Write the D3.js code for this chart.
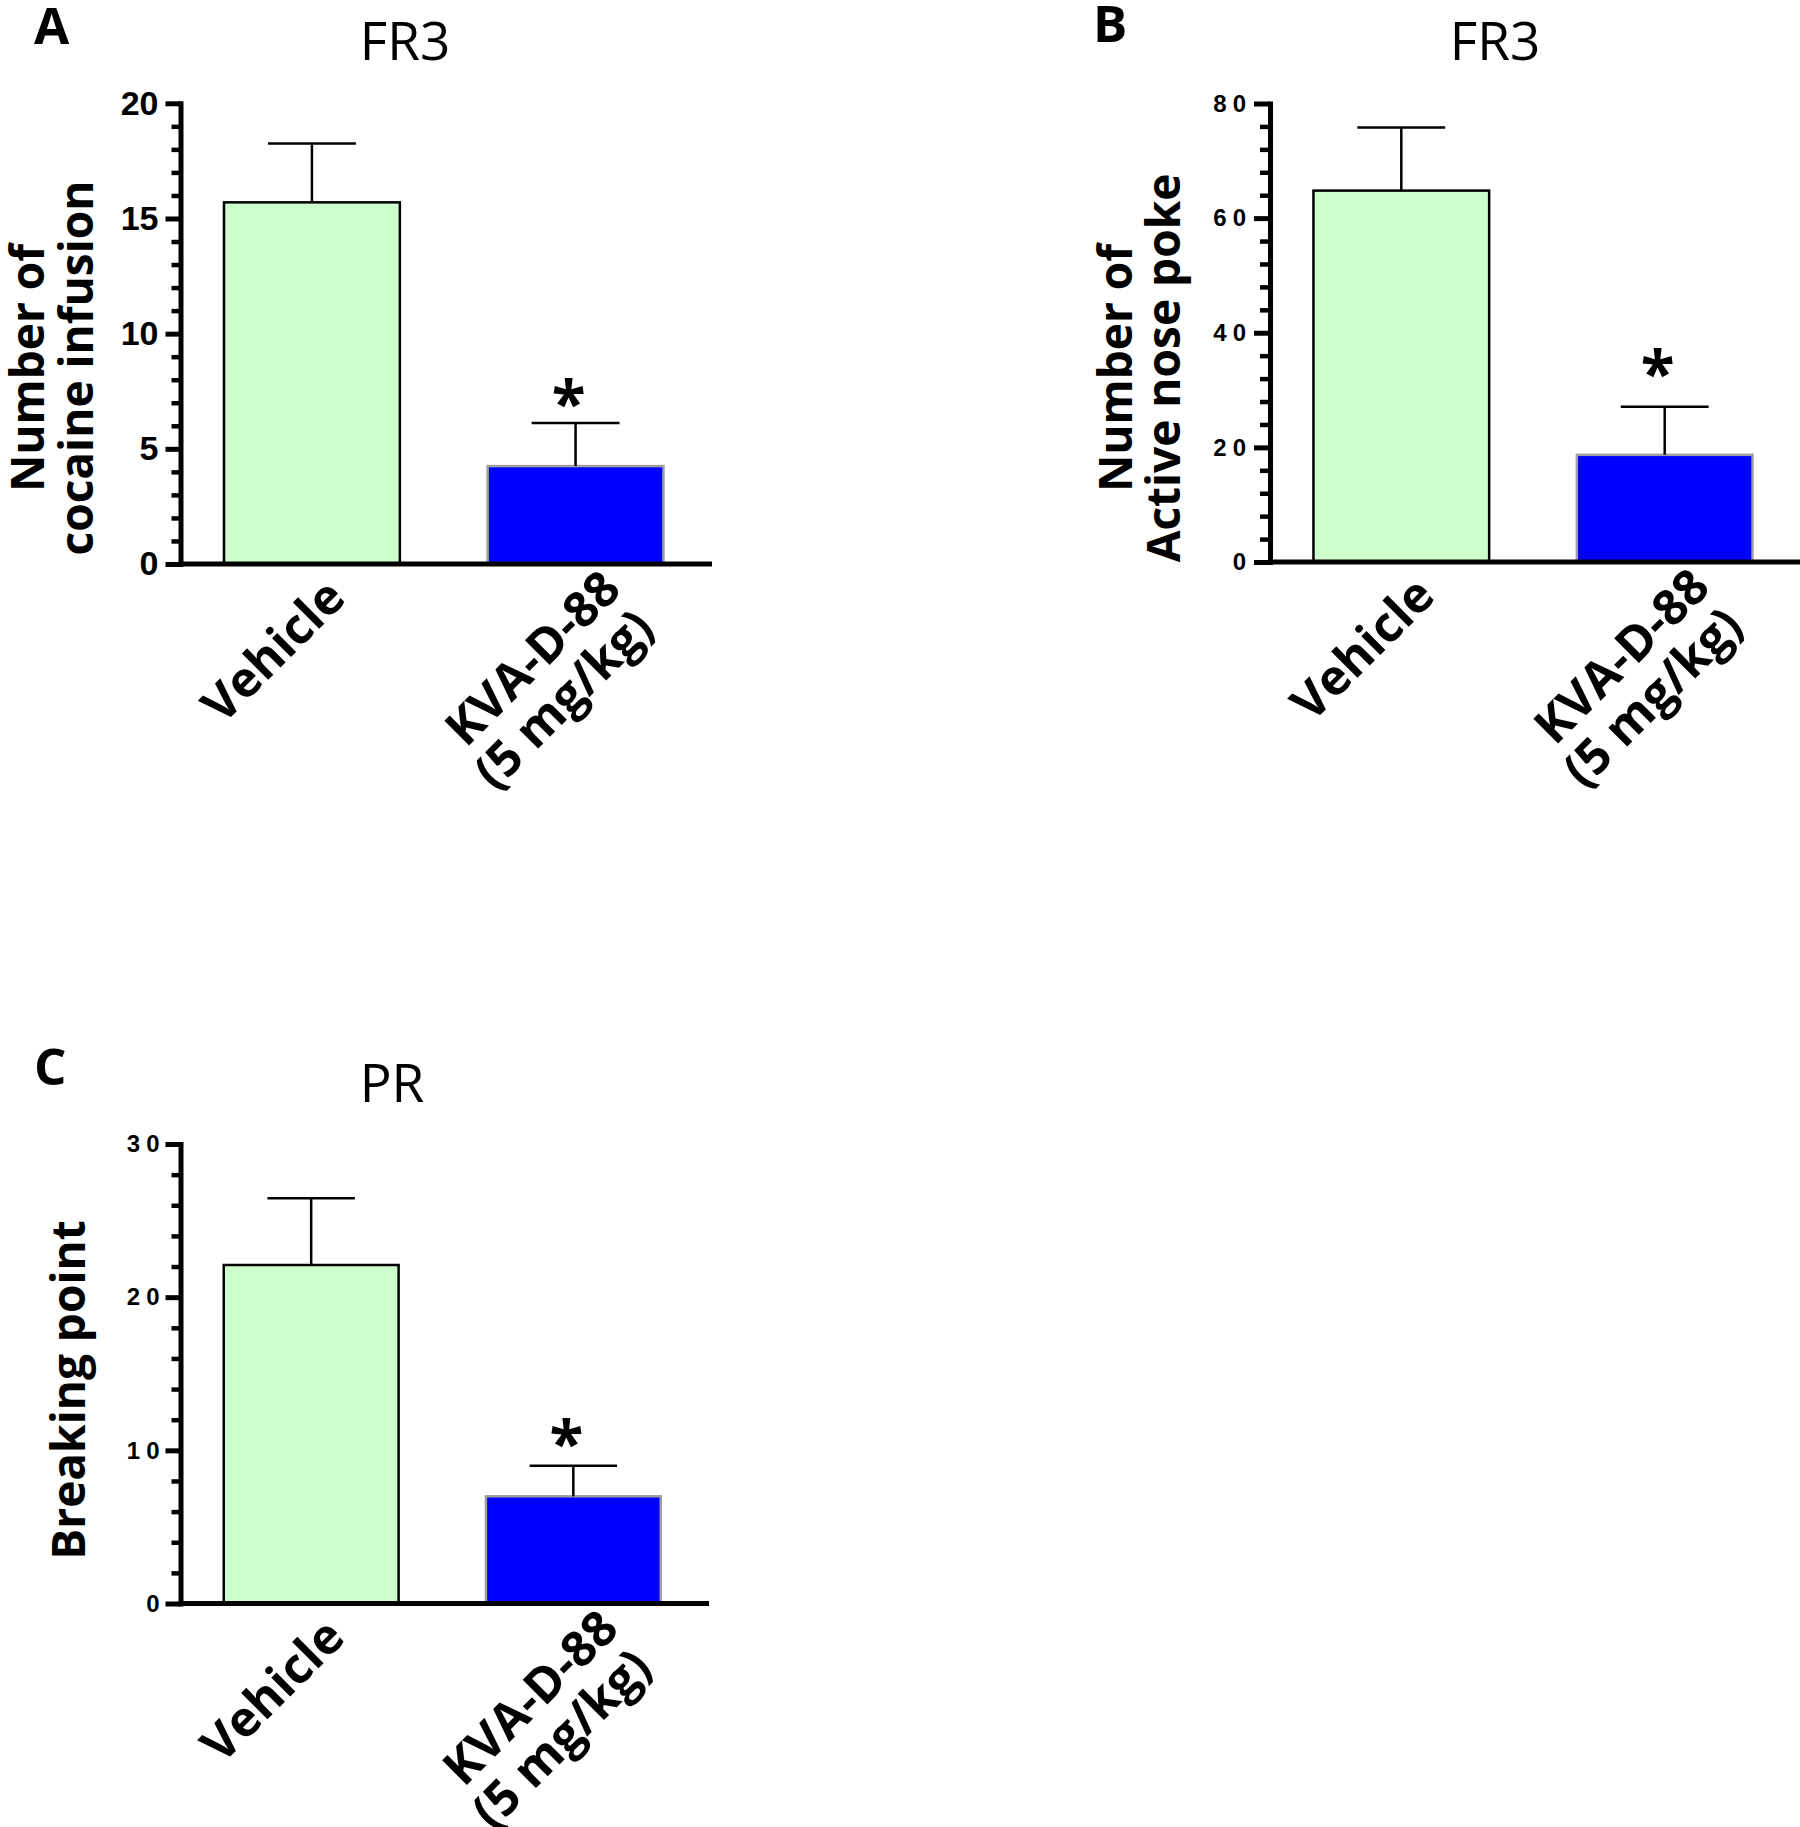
<!DOCTYPE html>
<html>
<head>
<meta charset="utf-8">
<script src="https://cdn.jsdelivr.net/npm/d3@7"></script>
<style>
  html, body { margin: 0; padding: 0; background: #fff; }
  svg { display: block; }
</style>
</head>
<body>
<svg id="chart" width="1800" height="1827"></svg>
<script>
// ---------------- DATA ----------------
const groups = ["Vehicle", "KVA-D-88 (5 mg/kg)"];
const groupLines = [["Vehicle"], ["KVA-D-88", "(5 mg/kg)"]];

const infusionMean = [15.7, 4.25];
const infusionSem  = [2.55, 1.87];
const infusionSig  = [null, 7.2];
const infusionTicks = [0, 5, 10, 15, 20];
const infusionMinorStep = 1;

const pokeMean = [64.8, 18.7];
const pokeSem  = [11.0, 8.4];
const pokeSig  = [null, 33.8];
const pokeTicks = [0, 20, 40, 60, 80];
const pokeMinorStep = 4;

const breakMean = [22.1, 7.0];
const breakSem  = [4.35, 2.0];
const breakSig  = [null, 10.8];
const breakTicks = [0, 10, 20, 30];
const breakMinorStep = 2;

const barFills   = ["#ccffcc", "#0000ff"];
const barStrokes = ["#000000", "#a0a0a0"];

// ---------------- LAYOUT ----------------
const panels = [
  { letter: "A", letterX: 34, letterY: 44, title: "FR3", titleX: 405, titleY: 60,
    yTitle: ["Number of", "cocaine infusion"], yTitleX: [44, 93], yTitleCY: 368,
    mean: infusionMean, sem: infusionSem, sig: infusionSig, ticks: infusionTicks, minor: infusionMinorStep,
    axisX: 180.5, xEnd: 712, bandRange: [180.5, 707], y0: 564, yTop: 103.3,
    tickFont: 34, tickLS: 0, tickPad: 7, majorLen: 15, minorLen: 9 },
  { letter: "B", letterX: 1093, letterY: 42, title: "FR3", titleX: 1495, titleY: 60,
    yTitle: ["Number of", "Active nose poke"], yTitleX: [1132, 1180], yTitleCY: 368,
    mean: pokeMean, sem: pokeSem, sig: pokeSig, ticks: pokeTicks, minor: pokeMinorStep,
    axisX: 1270, xEnd: 1800, bandRange: [1270, 1796], y0: 562, yTop: 103.5,
    tickFont: 24, tickLS: 6, tickPad: 2, majorLen: 16, minorLen: 10 },
  { letter: "C", letterX: 34, letterY: 1085, title: "PR", titleX: 392, titleY: 1102,
    yTitle: ["Breaking point"], yTitleX: [85], yTitleCY: 1390,
    mean: breakMean, sem: breakSem, sig: breakSig, ticks: breakTicks, minor: breakMinorStep,
    axisX: 180.5, xEnd: 709, bandRange: [180.5, 704], y0: 1603.5, yTop: 1144,
    tickFont: 24, tickLS: 6, tickPad: 0, majorLen: 15, minorLen: 9 }
];

const labelFont = "'Open Sans', 'DejaVu Sans', sans-serif";
const tickFontFam = "'Liberation Sans', Arial, sans-serif";
const svg = d3.select("#chart");

panels.forEach(p => {
  const g = svg.append("g");
  const max = p.ticks[p.ticks.length - 1];
  const y = d3.scaleLinear().domain([0, max]).range([p.y0, p.yTop]);
  const x = d3.scaleBand().domain(groups).range(p.bandRange)
    .paddingInner(0.333).paddingOuter(0.165);
  const bw = x.bandwidth();

  // panel letter
  g.append("text").attr("x", p.letterX).attr("y", p.letterY)
    .attr("font-family", labelFont).attr("font-weight", 700).attr("font-size", 51)
    .text(p.letter);

  // title
  g.append("text").attr("x", p.titleX).attr("y", p.titleY)
    .attr("text-anchor", "middle")
    .attr("font-family", labelFont).attr("font-size", 53)
    .text(p.title);

  // y axis title
  p.yTitle.forEach((t, i) => {
    g.append("text")
      .attr("transform", `translate(${p.yTitleX[i]},${p.yTitleCY}) rotate(-90)`)
      .attr("text-anchor", "middle")
      .attr("font-family", labelFont).attr("font-weight", 700).attr("font-size", 46)
      .text(t);
  });

  // bars
  groups.forEach((grp, i) => {
    g.append("rect")
      .attr("x", x(grp)).attr("y", y(p.mean[i]))
      .attr("width", bw).attr("height", p.y0 - y(p.mean[i]))
      .attr("fill", barFills[i]).attr("stroke", barStrokes[i]).attr("stroke-width", 2.5);
    const cx = x(grp) + bw / 2;
    const top = p.mean[i] + p.sem[i];
    g.append("line").attr("x1", cx).attr("x2", cx)
      .attr("y1", y(p.mean[i])).attr("y2", y(top))
      .attr("stroke", "#000").attr("stroke-width", 2.5);
    g.append("line").attr("x1", cx - bw / 4).attr("x2", cx + bw / 4)
      .attr("y1", y(top)).attr("y2", y(top))
      .attr("stroke", "#000").attr("stroke-width", 2.5);
    if (p.sig[i] != null) {
      g.append("text").attr("x", cx - 7).attr("y", y(p.sig[i]) + 28)
        .attr("text-anchor", "middle")
        .attr("font-family", labelFont).attr("font-weight", 700).attr("font-size", 62)
        .text("*");
    }
    // x tick labels rotated -45
    const lg = g.append("g").attr("transform", `translate(${cx},${p.y0}) rotate(-45)`);
    const lines = groupLines[i];
    const pos = lines.length === 1 ? [[-89, 51]] : [[-97, 53], [-104, 104]];
    lines.forEach((ln, j) => {
      lg.append("text").attr("x", pos[j][0]).attr("y", pos[j][1])
        .attr("text-anchor", "middle")
        .attr("font-family", labelFont).attr("font-weight", 700).attr("font-size", 49)
        .text(ln);
    });
  });

  // minor ticks
  const minorVals = d3.range(0, max + 1e-9, p.minor).filter(v => !p.ticks.includes(v));
  const minorAxis = d3.axisLeft(y).tickValues(minorVals).tickSize(p.minorLen).tickFormat("");
  const mg = g.append("g").attr("transform", `translate(${p.axisX},0)`).call(minorAxis);
  mg.select(".domain").remove();
  mg.selectAll(".tick line").attr("stroke", "#000").attr("stroke-width", 4.5);

  // major ticks + labels
  const majorAxis = d3.axisLeft(y).tickValues(p.ticks).tickSize(p.majorLen).tickSizeOuter(0)
    .tickPadding(p.tickPad).tickFormat(d3.format("d"));
  const ag = g.append("g").attr("transform", `translate(${p.axisX},0)`).call(majorAxis);
  ag.select(".domain").attr("stroke", "#000").attr("stroke-width", 5).attr("stroke-linecap", "square");
  ag.selectAll(".tick line").attr("stroke", "#000").attr("stroke-width", 5);
  ag.selectAll(".tick text")
    .attr("font-family", tickFontFam).attr("font-weight", 700)
    .attr("font-size", p.tickFont).attr("letter-spacing", p.tickLS)
    .attr("fill", "#000");

  // x axis baseline
  g.append("line").attr("x1", p.axisX).attr("x2", p.xEnd)
    .attr("y1", p.y0).attr("y2", p.y0)
    .attr("stroke", "#000").attr("stroke-width", 5);
});
</script>
</body>
</html>
